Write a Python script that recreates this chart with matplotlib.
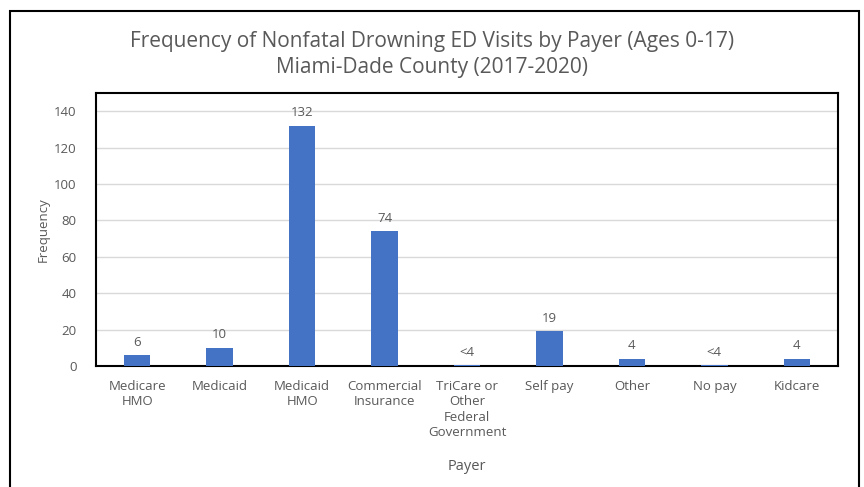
import matplotlib.pyplot as plt
from matplotlib.patches import Rectangle

payers = ["Medicare\nHMO", "Medicaid", "Medicaid\nHMO", "Commercial\nInsurance",
          "TriCare or\nOther\nFederal\nGovernment", "Self pay", "Other", "No pay", "Kidcare"]
# suppressed counts (<4) are drawn as a sliver
visits = [6, 10, 132, 74, 0.6, 19, 4, 0.6, 4]
labels = ["6", "10", "132", "74", "<4", "19", "4", "<4", "4"]

plt.rcParams['font.family'] = ['Open Sans', 'DejaVu Sans']
grey = "#595959"

fig = plt.figure(figsize=(8.64, 4.87), dpi=100)
fig.patches.append(Rectangle((10 / 864, -0.05), 849 / 864, 1 - 11 / 487 + 0.05,
                             transform=fig.transFigure, fill=False,
                             edgecolor="black", linewidth=1.5))

ax = fig.add_axes([96 / 864, 1 - 366 / 487, 742 / 864, 273 / 487])
x = range(len(payers))
ax.bar(x, visits, width=0.32, color="#4472C4", zorder=3)
for xi, v, lab in zip(x, visits, labels):
    ax.text(xi, v + 3.5, lab, ha="center", va="bottom", fontsize=9.5, color=grey)

ax.set_xlim(-0.5, len(payers) - 0.5)
ax.set_ylim(0, 150)
ax.set_yticks(range(0, 141, 20))
ax.grid(axis="y", color="#d9d9d9", linewidth=1, zorder=0)
ax.set_xticks(list(x))
ax.set_xticklabels(payers, fontsize=9.5, color=grey, linespacing=1.25)
ax.tick_params(axis="y", labelsize=9.5, labelcolor=grey, length=0, pad=14)
ax.tick_params(axis="x", length=0, pad=10)
for s in ax.spines.values():
    s.set_color("black")
    s.set_linewidth(1.5)

ax.set_ylabel("Frequency", fontsize=9.5, color=grey, labelpad=3)
fig.text((96 + 838) / 2 / 864, 1 - 466 / 487, "Payer", ha="center", va="center",
         fontsize=10.5, color=grey)
fig.text(0.5, 1 - 41 / 487, "Frequency of Nonfatal Drowning ED Visits by Payer (Ages 0-17)",
         ha="center", va="center", fontsize=15, color=grey)
fig.text(0.5, 1 - 68 / 487, "Miami-Dade County (2017-2020)",
         ha="center", va="center", fontsize=15, color=grey)

fig.savefig("out.png", dpi=100)
